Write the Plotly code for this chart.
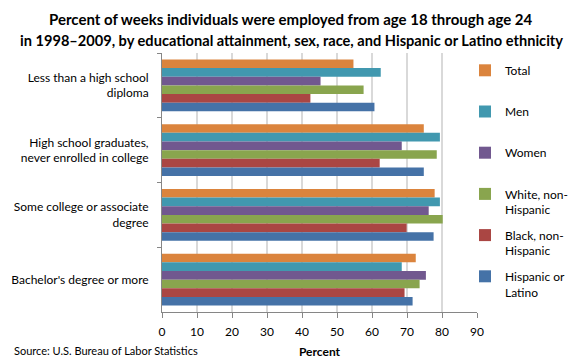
import plotly.graph_objects as go

categories = [
    "Less than a high school<br>diploma",
    "High school graduates,<br>never enrolled in college",
    "Some college or associate<br>degree",
    "Bachelor's degree or more",
]
series_names = ["Total", "Men", "Women", "White, non-<br>Hispanic", "Black, non-<br>Hispanic", "Hispanic or<br>Latino"]
total = [54.7, 74.8, 77.9, 72.5]
men = [62.5, 79.4, 79.4, 68.5]
women = [45.3, 68.5, 76.2, 75.4]
white = [57.6, 78.5, 80.2, 73.6]
black = [42.4, 62.2, 69.9, 69.3]
hispanic = [60.7, 74.8, 77.6, 71.6]
series_values = [total, men, women, white, black, hispanic]
colors = ["#DB843D", "#4198AF", "#71588F", "#89A54E", "#AA4643", "#4572A7"]
x_ticks = [0, 10, 20, 30, 40, 50, 60, 70, 80, 90]
title_lines = [
    "Percent of weeks individuals were employed from age 18 through age 24",
    "in 1998\u20132009, by educational attainment, sex, race, and Hispanic or Latino ethnicity",
]
title_sizes = [15, 14.6]

FONT = "Lato"
PLOT_W, PLOT_H, TOP = 315, 259, 53

fig = go.Figure()
for i, (name, vals, col) in enumerate(zip(series_names, series_values, colors)):
    label = name if "<br>" in name else name + "<br> "
    fig.add_trace(go.Bar(
        y=categories, x=vals, name=label, orientation="h",
        marker=dict(color=col, line=dict(width=0)),
        legendgroup=f"g{i}",
    ))

annotations = [
    dict(text="Source: U.S. Bureau of Labor Statistics", xref="paper", yref="paper",
         x=-150 / PLOT_W, y=-38 / PLOT_H, xanchor="left", yanchor="middle", showarrow=False,
         font=dict(family=FONT, size=11)),
]
for k, line in enumerate(title_lines):
    annotations.append(dict(
        text=f"<b>{line}</b>", xref="paper", yref="paper",
        x=(291 - 162) / PLOT_W, y=1 + (TOP - (19 + 21 * k)) / PLOT_H,
        xanchor="center", yanchor="middle",
        showarrow=False, font=dict(family=FONT, size=title_sizes[k], color="#000000"),
    ))

fig.update_layout(
    width=580, height=363,
    barmode="group", bargap=0.2, bargroupgap=0,
    plot_bgcolor="white", paper_bgcolor="white",
    margin=dict(l=162, r=103, t=TOP, b=51, autoexpand=False),
    font=dict(family=FONT, size=12, color="#000000"),
    xaxis=dict(
        range=[0, 90], tickvals=x_ticks, ticks="outside", ticklen=5, tickcolor="#868686",
        showline=True, linecolor="#868686", linewidth=1,
        showgrid=True, gridcolor="#D9D9D9", gridwidth=1.5, zeroline=False,
        tickfont=dict(family=FONT, size=12), automargin=False, ticklabelstandoff=4,
        title=dict(text="<b>Percent</b>", font=dict(family=FONT, size=12), standoff=9),
        fixedrange=True,
    ),
    yaxis=dict(
        autorange="reversed", tickson="boundaries", ticks="outside", ticklen=4,
        tickcolor="#868686", showline=True, linecolor="#868686", linewidth=1,
        showgrid=False, tickfont=dict(family=FONT, size=12), ticklabelstandoff=10,
        automargin=False, fixedrange=True,
    ),
    legend=dict(
        x=1.0 - 12 / PLOT_W, xanchor="left", y=1.0 - 3 / PLOT_H, yanchor="top",
        valign="top", tracegroupgap=7, itemclick=False,
        font=dict(family=FONT, size=12),
        bgcolor="rgba(0,0,0,0)",
    ),
    annotations=annotations,
)

fig.write_html(
    "out.html",
    config={"displayModeBar": False},
    post_script="document.body.style.margin='0';document.body.style.overflow='hidden';",
)
